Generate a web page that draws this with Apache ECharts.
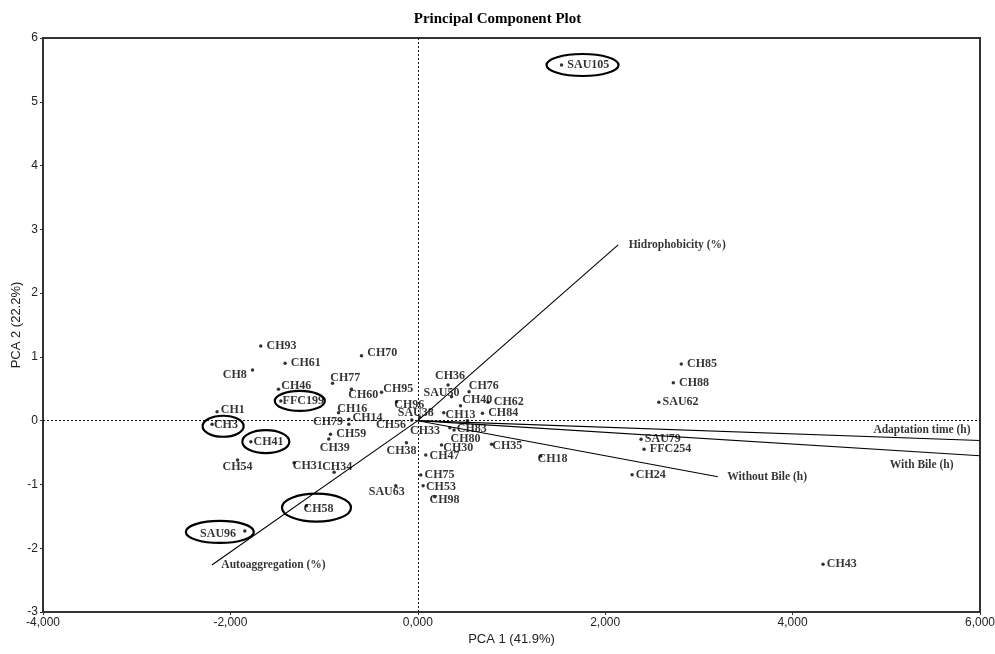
<!DOCTYPE html>
<html>
<head>
<meta charset="utf-8">
<script src="https://cdn.jsdelivr.net/npm/echarts@6/dist/echarts.min.js"></script>
<style>html,body{margin:0;padding:0;background:#fff}#chart{width:995px;height:654px}</style>
</head>
<body>
<div id="chart"></div>
<script>
// ---- data ----
const pointNames = ['SAU105','CH93','CH61','CH8','CH70','CH46','CH77','CH60','CH95','CH96','FFC199','CH1','CH3','CH16','CH14','CH79','CH59','CH39','CH41','CH54','CH31','CH34','CH56','SAU38','CH38','SAU63','CH58','SAU96','CH36','SAU50','CH76','CH40','CH62','CH84','CH13','CH33','CH83','CH80','CH30','CH47','CH35','CH18','CH75','CH53','CH98','CH85','CH88','SAU62','SAU79','FFC254','CH24','CH43'];
const pc1 = [1.534,-1.676,-1.416,-1.764,-0.601,-1.487,-0.910,-0.708,-0.387,-0.227,-1.462,-2.142,-2.195,-0.846,-0.736,-0.736,-0.932,-0.950,-1.782,-1.924,-1.320,-0.893,-0.064,0.021,-0.121,-0.235,-1.188,-1.846,0.323,0.360,0.547,0.456,0.750,0.690,0.277,0.342,0.387,0.530,0.253,0.085,0.787,1.313,0.032,0.057,0.181,2.812,2.727,2.572,2.383,2.415,2.287,4.325];
const pc2 = [5.577,1.171,0.900,0.795,1.019,0.492,0.586,0.492,0.445,0.298,0.309,0.141,-0.056,0.125,0.022,-0.056,-0.213,-0.287,-0.329,-0.616,-0.659,-0.809,0.011,0.058,-0.345,-1.019,-1.333,-1.729,0.560,0.376,0.455,0.235,0.288,0.116,0.125,-0.110,-0.146,0.000,-0.381,-0.538,-0.370,-0.553,-0.853,-1.019,-1.192,0.889,0.596,0.288,-0.292,-0.448,-0.847,-2.251];
const circledNames = ['SAU105','FFC199','CH3','CH41','CH58','SAU96'];
const vectorNames = ['Hidrophobicity (%)','Autoaggregation (%)','Adaptation time (h)','With Bile (h)','Without Bile (h)'];
const vecPc1 = [2.138,-2.198,6.0,6.0,3.202];
const vecPc2 = [2.755,-2.263,-0.31,-0.55,-0.88];
const xTickLabels = ['-4,000','-2,000','0,000','2,000','4,000','6,000'];

// ---- styles (label placement / ellipse shapes) ----
const labelCfg = {
  'SAU105':['right',0,0],'CH93':['right',0,0],'CH61':['right',0,0],'CH8':['left',0,5],'CH70':['right',0,-3],
  'CH46':['right',-3,-3],'CH77':['right',-8,-5],'CH60':['right',-9,6],'CH95':['right',-4,-3],'CH96':['right',-8,3],
  'FFC199':['right',-4,0],'CH1':['right',-2,-2],'CH3':['right',-4,1],'CH16':['right',-7,-4],'CH14':['right',-2,-1],
  'CH79':['left',0,-2],'CH59':['right',0,0],'CH39':['bottom',6,0],'CH41':['right',-3,0],'CH54':['bottom',0,-2],
  'CH31':['right',-7,3],'CH34':['top',3,3],'CH56':['left',0,5],'SAU38':['inside',-4,-4],'CH38':['bottom',-5,-1],
  'SAU63':['inside',-9,6],'CH58':['inside',12,3],'SAU96':['left',-3,3],'CH36':['top',2,0],'SAU50':['inside',-10,-4],
  'CH76':['right',-6,-6],'CH40':['right',-4,-6],'CH62':['right',0,0],'CH84':['right',0,0],'CH13':['right',-4,2],
  'CH33':['left',-4,3],'CH83':['right',-3,-1],'CH80':['bottom',-2,9],'CH30':['right',-4,3],'CH47':['right',-2,1],
  'CH35':['right',-5,2],'CH18':['right',-9,3],'CH75':['right',-2,0],'CH53':['right',-3,1],'CH98':['right',-11,3],
  'CH85':['right',0,0],'CH88':['right',0,0],'SAU62':['right',-2,0],'SAU79':['right',-2,0],'FFC254':['right',0,0],
  'CH24':['right',-2,0],'CH43':['right',-2,0]
};
const ellipseCfg = {
  'SAU105':[21,0,72,22],'FFC199':[19,0,50,20],'CH3':[11,2,41,21],
  'CH41':[15,0,47,23],'CH58':[10,2,69,28],'SAU96':[-25,1,68,22]
};
const vecLabelCfg = [
  ['right',0,0,10],['right',0,0,9],['left',-2,-10,7],['left',0,9,26],['right',0,0,9]
];

const serif = "'Liberation Serif','Times New Roman',serif";
const sans = "'Liberation Sans Narrow','Liberation Sans',Arial,sans-serif";

const pointData = pointNames.map((n,i)=>{
  const c = labelCfg[n] || ['right',0,0];
  const lab = {position:c[0], offset:[c[1],c[2]]};
  if (c[0]==='top' || c[0]==='bottom') lab.distance = 1;
  else lab.distance = 4;
  return {name:n, value:[pc1[i],pc2[i]], label:lab};
});

const vecSeries = vectorNames.map((n,i)=>({
  type:'line', silent:true, symbol:'none', animation:false,
  data:[[0,0],[vecPc1[i],vecPc2[i]]],
  lineStyle:{color:'#000', width:1.1}, z:3
}));

const vecTips = {
  type:'scatter', silent:true, animation:false, symbolSize:1,
  itemStyle:{color:'rgba(0,0,0,0)'},
  data: vectorNames.map((n,i)=>({name:n, value:[vecPc1[i],vecPc2[i]],
    label:{show:true, position:vecLabelCfg[i][0], offset:[vecLabelCfg[i][1],vecLabelCfg[i][2]], distance:vecLabelCfg[i][3]}})),
  label:{show:true, formatter:'{b}', color:'#000', fontFamily:serif, fontWeight:'bold', fontSize:11.5},
  z:6
};

const ellipseSeries = {
  type:'custom', silent:true, animation:false, z:7,
  data: circledNames.map(n=>{const i=pointNames.indexOf(n); return [pc1[i],pc2[i]];}),
  renderItem:(params, api)=>{
    const p = api.coord([api.value(0), api.value(1)]);
    const s = ellipseCfg[circledNames[params.dataIndex]];
    return {type:'ellipse', shape:{cx:p[0]+s[0], cy:p[1]+s[1], rx:s[2]/2, ry:s[3]/2},
      style:{fill:'none', stroke:'#000', lineWidth:2.2}};
  }
};

const chart = echarts.init(document.getElementById('chart'), null, {renderer:'canvas'});
chart.setOption({
  backgroundColor:'#fff',
  animation:false,
  title:{text:'Principal Component Plot', left:'center', top:7,
    textStyle:{fontFamily:serif, fontWeight:'bold', fontSize:15, color:'#000'}},
  grid:{left:43, right:15, top:38, bottom:42, show:true, borderColor:'#333', borderWidth:2,
    containLabel:false, outerBoundsMode:'none'},
  xAxis:{type:'value', min:-4, max:6, interval:2,
    name:'PCA 1 (41.9%)', nameLocation:'middle', nameGap:21, nameMoveOverlap:false,
    nameTextStyle:{fontFamily:sans, fontSize:13, color:'#222'},
    axisLine:{show:true, onZero:false, lineStyle:{color:'#333', width:2}},
    axisTick:{show:true, length:3, lineStyle:{color:'#333'}},
    splitLine:{show:false},
    axisLabel:{fontFamily:sans, fontSize:12, color:'#222', margin:5,
      formatter:(v)=>{const k=Math.round((v+4)/2); return xTickLabels[k]!==undefined?xTickLabels[k]:'';}}
  },
  yAxis:{type:'value', min:-3, max:6, interval:1,
    name:'PCA 2 (22.2%)', nameLocation:'middle', nameGap:20, nameMoveOverlap:false,
    nameTextStyle:{fontFamily:sans, fontSize:13, color:'#222'},
    axisLine:{show:true, onZero:false, lineStyle:{color:'#333', width:2}},
    axisTick:{show:true, length:3, lineStyle:{color:'#333'}},
    splitLine:{show:false},
    axisLabel:{fontFamily:sans, fontSize:12, color:'#222', margin:5}
  },
  series:[
    {type:'scatter', name:'points', silent:true, animation:false, symbolSize:3.5,
      itemStyle:{color:'#000'},
      label:{show:true, formatter:'{b}', color:'#000', fontFamily:serif, fontWeight:'bold', fontSize:12},
      data:pointData, z:5,
      markLine:{silent:true, symbol:'none', animation:false,
        label:{show:false},
        lineStyle:{type:[2,2], color:'#111', width:1},
        data:[{xAxis:0},{yAxis:0}]}
    },
    ...vecSeries,
    vecTips,
    ellipseSeries
  ]
});
</script>
</body>
</html>
